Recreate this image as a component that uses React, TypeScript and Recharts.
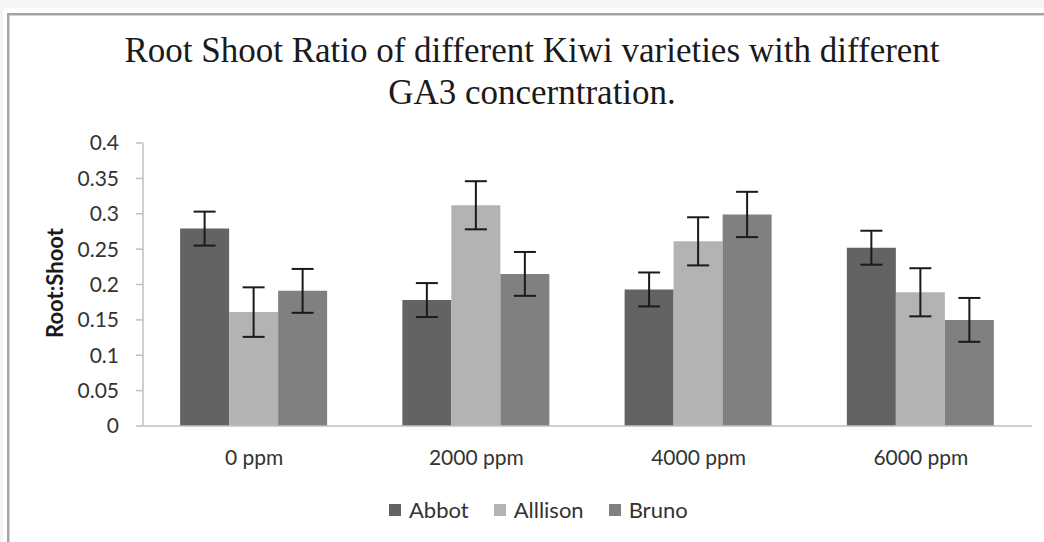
import React from "react";
import { BarChart, Bar, XAxis, YAxis, ErrorBar } from "recharts";

const categories = ["0 ppm", "2000 ppm", "4000 ppm", "6000 ppm"];
const seriesNames = ["Abbot", "Alllison", "Bruno"];
const seriesColors = ["#636363", "#b3b3b3", "#808080"];
const abbotValues = [0.279, 0.178, 0.193, 0.252];
const abbotErrors = [0.024, 0.024, 0.024, 0.024];
const allisonValues = [0.161, 0.312, 0.261, 0.189];
const allisonErrors = [0.035, 0.034, 0.034, 0.034];
const brunoValues = [0.191, 0.215, 0.299, 0.15];
const brunoErrors = [0.031, 0.031, 0.032, 0.031];
const yTicks = [0, 0.05, 0.1, 0.15, 0.2, 0.25, 0.3, 0.35, 0.4];
const titleLines = [
  "Root Shoot Ratio of different Kiwi varieties with different",
  "GA3 concerntration.",
];
const yLabel = "Root:Shoot";

const data = categories.map((c, i) => ({
  name: c,
  s0: abbotValues[i],
  e0: abbotErrors[i],
  s1: allisonValues[i],
  e1: allisonErrors[i],
  s2: brunoValues[i],
  e2: brunoErrors[i],
}));

const sans = "Lato, 'Open Sans', sans-serif";

export default function App() {
  return (
    <div style={{ position: "absolute", left: 0, top: 0, width: 1044, height: 542, background: "#f5f5f3", overflow: "hidden" }}>
      <div style={{ position: "absolute", left: 3, top: 8, width: 1100, height: 600, background: "#ffffff" }} />
      <div
        style={{
          position: "absolute",
          left: 7,
          top: 13,
          width: 1100,
          height: 600,
          borderLeft: "2px solid #a4a4a4",
          borderTop: "2px solid #a4a4a4",
          boxShadow: "inset 1px 1px 0 #d4d4d4",
        }}
      />
      <div style={{ position: "absolute", left: 0, top: 0 }}>
        <BarChart
          width={1044}
          height={542}
          data={data}
          margin={{ top: 143, right: 12, bottom: 76, left: 0 }}
          barCategoryGap="16.7%"
          barGap={0}
        >
          <XAxis
            dataKey="name"
            height={40}
            tickLine={false}
            tickSize={0}
            tickMargin={24}
            axisLine={{ stroke: "#bfbfbf", strokeWidth: 1.5 }}
            tick={{ fill: "#333333", fontSize: 21, fontFamily: sans }}
            interval={0}
          />
          <YAxis
            width={143}
            domain={[0, 0.4]}
            ticks={yTicks}
            tickFormatter={(v) => String(v)}
            tickSize={7}
            tickMargin={17}
            axisLine={{ stroke: "#bfbfbf", strokeWidth: 1.5 }}
            tickLine={{ stroke: "#bfbfbf", strokeWidth: 1.5 }}
            tick={{ fill: "#333333", fontSize: 21, fontFamily: sans }}
          />
          {seriesNames.map((n, i) => (
            <Bar key={n} dataKey={`s${i}`} name={n} fill={seriesColors[i]} isAnimationActive={false}>
              <ErrorBar dataKey={`e${i}`} width={11} stroke="#1a1a1a" strokeWidth={2} />
            </Bar>
          ))}
        </BarChart>
      </div>
      {titleLines.map((t, i) => (
        <div
          key={i}
          style={{
            position: "absolute",
            left: 0,
            width: 1064,
            top: 31 + i * 42,
            textAlign: "center",
            fontFamily: "'Liberation Serif', 'Times New Roman', serif",
            fontSize: 35,
            lineHeight: "40px",
            color: "#1a1a1a",
            whiteSpace: "nowrap",
          }}
        >
          {t}
        </div>
      ))}
      <div
        style={{
          position: "absolute",
          left: 54,
          top: 283,
          transform: "translate(-50%, -50%) rotate(-90deg)",
          fontFamily: sans,
          fontWeight: 700,
          fontSize: 22,
          color: "#1a1a1a",
          whiteSpace: "nowrap",
        }}
      >
        {yLabel}
      </div>
      <div
        style={{
          position: "absolute",
          left: 389,
          top: 496,
          display: "flex",
          alignItems: "center",
          fontFamily: sans,
          fontSize: 22,
          color: "#333333",
          whiteSpace: "nowrap",
        }}
      >
        {seriesNames.map((n, i) => (
          <div key={n} style={{ display: "flex", alignItems: "center", marginRight: 25 }}>
            <div style={{ width: 12, height: 12, background: seriesColors[i], marginRight: 8 }} />
            <span>{n}</span>
          </div>
        ))}
      </div>
    </div>
  );
}
